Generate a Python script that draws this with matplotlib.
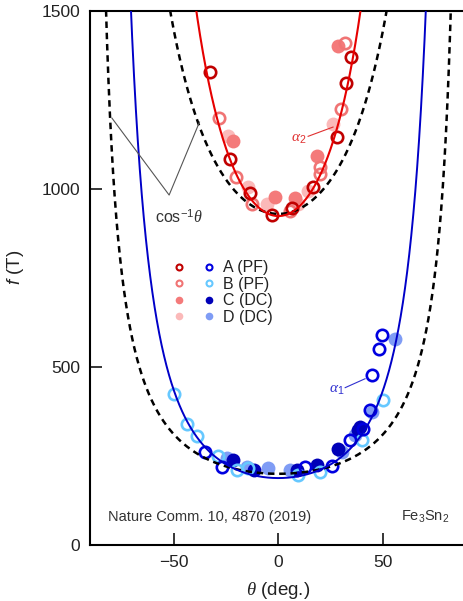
import numpy as np
import matplotlib
matplotlib.use("Agg")
import matplotlib.pyplot as plt
from matplotlib.lines import Line2D
from matplotlib.legend_handler import HandlerTuple

plt.rcParams["font.family"] = ["Liberation Sans", "DejaVu Sans"]
plt.rcParams["mathtext.fontset"] = "custom"
plt.rcParams["mathtext.rm"] = "Liberation Sans"
plt.rcParams["mathtext.it"] = "Liberation Serif:italic"
plt.rcParams["mathtext.sf"] = "Liberation Sans:italic"
plt.rcParams["mathtext.bf"] = "Liberation Sans:bold"

# ---- measured quantum-oscillation frequencies (theta in deg, f in T) ----
# alpha_2 branch
theta_a2_A = [-32.9, -23.1, -13.5, -3.2, 6.4, 16.7, 27.9, 32.3, 34.6]
f_a2_A = [1330, 1084, 990, 928, 946, 1005, 1145, 1299, 1371]
theta_a2_B = [-28.2, -20.2, -12.7, 5.6, 19.9, 19.9, 29.9, 31.9]
f_a2_B = [1199, 1035, 958, 939, 1042, 1061, 1224, 1411]
theta_a2_C = [-21.8, -1.6, 8.0, 18.3, 28.7]
f_a2_C = [1135, 978, 976, 1093, 1402]
theta_a2_D = [-23.9, -14.3, -5.3, 9.6, 14.3, 26.3]
f_a2_D = [1149, 1005, 958, 958, 995, 1182]

# alpha_1 branch
theta_a1_A = [-35.0, -27.0, 12.7, 25.5, 34.2, 40.3, 43.8, 44.6, 48.2, 49.4]
f_a1_A = [262, 218, 220, 222, 294, 327, 378, 477, 551, 589]
theta_a1_B = [-50.1, -43.7, -39.0, -28.7, -19.9, -14.3, 9.6, 19.9, 39.8, 50.1]
f_a1_B = [423, 341, 306, 250, 210, 215, 196, 206, 294, 406]
theta_a1_C = [-21.5, -11.6, 8.8, 18.3, 28.7, 38.2, 39.0]
f_a1_C = [238, 212, 210, 224, 271, 322, 332]
theta_a1_D = [-24.6, -15.1, -4.8, 5.6, 30.3, 36.6, 44.6, 55.7]
f_a1_D = [245, 220, 215, 210, 262, 308, 374, 579]

# model curves: f0 / cos(theta) (2D) and f0 / cos(theta)^n (fits)
f0_cos_low, f0_cos_high = 200.0, 930.0
f0_fit_a1, f0_fit_a2 = 188.0, 924.0
n_fit = 1.9

legend_labels = ["A (PF)", "B (PF)", "C (DC)", "D (DC)"]

# colours
red_A, red_B, red_C, red_D = "#c00000", "#f07474", "#f47a7a", "#fbb9b9"
blue_A, blue_B, blue_C, blue_D = "#0000e0", "#66c8ff", "#0000b8", "#7f9cf5"
red_line, blue_line = "#e60000", "#0000c8"

W, H = 463, 601
fig = plt.figure(figsize=(W / 100, H / 100), dpi=100)
ax = fig.add_axes([90 / W, 56 / H, 376.8 / W, 534 / H])
ax.set_xlim(-90, 90)
ax.set_ylim(0, 1500)

ring_kw = dict(ls="none", marker="o", ms=8.2, mfc="none", mew=1.9, zorder=3)
fill_kw = dict(ls="none", marker="o", ms=10.0, mew=0, zorder=2)

# filled markers (DC) underneath, open rings (PF) on top
for th, f, c in [(theta_a2_D, f_a2_D, red_D), (theta_a2_C, f_a2_C, red_C),
                 (theta_a1_D, f_a1_D, blue_D), (theta_a1_C, f_a1_C, blue_C)]:
    ax.plot(th, f, mfc=c, mec=c, **fill_kw)
for th, f, c in [(theta_a2_B, f_a2_B, red_B), (theta_a2_A, f_a2_A, red_A),
                 (theta_a1_B, f_a1_B, blue_B), (theta_a1_A, f_a1_A, blue_A)]:
    ax.plot(th, f, mec=c, **ring_kw)

th = np.linspace(-89.5, 89.5, 3000)
c = np.cos(np.radians(th))
ax.plot(th, f0_cos_low / c, color="black", lw=1.8, ls=(0, (2.6, 1.9)), zorder=4)
ax.plot(th, f0_cos_high / c, color="black", lw=1.8, ls=(0, (2.6, 1.9)), zorder=4)
ax.plot(th, f0_fit_a1 / c ** n_fit, color=blue_line, lw=1.4, zorder=5)
ax.plot(th, f0_fit_a2 / c ** n_fit, color=red_line, lw=1.5, zorder=5)

# cos^-1 theta annotation
ax.plot([-79.5, -52.2, -37.7], [1199, 983, 1188], color="#555555", lw=0.8, zorder=6)
ax.text(-47.5, 922, r"cos$^{-1}\theta$", fontsize=11.5, color="#333333",
        ha="center", va="center")

# branch labels
ax.plot([14.2, 26.1], [1148, 1174], color="#e03030", lw=0.8, zorder=6)
ax.text(9.9, 1140, r"$\alpha_2$", fontsize=11, color="#e03030", ha="center", va="center")
ax.plot([31.9, 41.4], [442, 467], color="#3030d0", lw=0.8, zorder=6)
ax.text(27.9, 434, r"$\alpha_1$", fontsize=11, color="#3030d0", ha="center", va="center")

ax.text(-81.3, 78, "Nature Comm. 10, 4870 (2019)", fontsize=10.5, color="#333333",
        ha="left", va="center")
ax.text(81.5, 78, r"Fe$_3$Sn$_2$", fontsize=10.5, color="#333333", ha="right", va="center")

# legend: red and blue markers side by side in each row
handles = []
for ca, cb, filled in [(red_A, blue_A, False), (red_B, blue_B, False),
                       (red_C, blue_C, True), (red_D, blue_D, True)]:
    pair = []
    for col in (ca, cb):
        if filled:
            pair.append(Line2D([], [], ls="none", marker="o", ms=5.5, mfc=col, mec=col, mew=0))
        else:
            pair.append(Line2D([], [], ls="none", marker="o", ms=4.3, mfc="none", mec=col, mew=1.5))
    handles.append(tuple(pair))
ax.legend(handles, legend_labels, handler_map={tuple: HandlerTuple(ndivide=None, pad=0.875)},
          handlelength=2.875, handletextpad=0.375, fontsize=11.5, frameon=False,
          borderpad=0, labelspacing=0.09, loc="upper left", borderaxespad=0,
          bbox_to_anchor=(171.3 / W, 1 - 260.4 / H), bbox_transform=fig.transFigure,
          labelcolor="#222222")

ax.set_xticks([-50, 0, 50])
ax.set_xticklabels(["\u221250", "0", "50"])
ax.set_yticks([0, 500, 1000, 1500])
ax.tick_params(direction="in", length=8.5, width=1.1, labelsize=12.5, pad=7,
               top=False, right=False, colors="black", labelcolor="#222222")
for s in ax.spines.values():
    s.set_linewidth(1.5)
ax.spines["right"].set_visible(False)

ax.set_xlabel(r"$\theta$ (deg.)", fontsize=13.5, color="#222222")
ax.set_ylabel(r"$\mathsf{f}$ (T)", fontsize=13.5, color="#222222")
ax.xaxis.set_label_coords(0.5, -0.066)
ax.yaxis.set_label_coords(-0.17, 0.519)

fig.savefig("out.png", dpi=100)
